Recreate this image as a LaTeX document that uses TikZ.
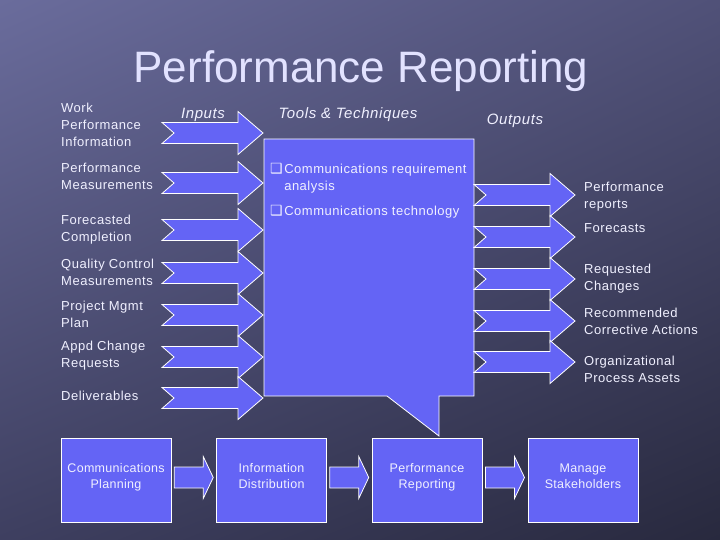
\documentclass[tikz,border=0pt]{standalone}
\usepackage{fontspec}
\setmainfont{Liberation Sans}
\newfontfamily\dingfont{DejaVu Sans}
\usetikzlibrary{calc,shadings}
\definecolor{bgTL}{RGB}{106,108,156}
\definecolor{bgTR}{RGB}{80,81,120}
\definecolor{bgBL}{RGB}{62,63,96}
\definecolor{bgBR}{RGB}{40,41,62}
\definecolor{boxblue}{RGB}{100,100,245}
\definecolor{lighttext}{RGB}{240,240,255}
\definecolor{titletext}{RGB}{226,226,255}
\newcommand{\bul}{{\dingfont\fontsize{14}{13}\selectfont ❑}}

\begin{document}
\begin{tikzpicture}[x=1pt,y=-1pt,
  blockfill/.style={fill=boxblue,draw=white,line width=0.8pt},
  lbl/.style={anchor=west,align=left,inner sep=0pt,text=lighttext,
    font=\fontsize{13}{17}\selectfont\addfontfeatures{LetterSpace=4}},
  colhead/.style={inner sep=0pt,text=lighttext,
    font=\fontsize{15}{18}\selectfont\itshape\addfontfeatures{LetterSpace=4}},
  stage/.style={blockfill,minimum width=110pt,minimum height=84pt,align=center,text=lighttext,
    text depth=8pt,font=\fontsize{12.5}{16}\selectfont\addfontfeatures{LetterSpace=2.5}},
  pics/blockarrow/.style={code={
    \draw[blockfill] (0,-10.5) -- (76,-10.5) -- (76,-21.5) -- (101,0) -- (76,21.5) -- (76,10.5) -- (0,10.5) -- (12,0) -- cycle;}},
  pics/flowarrow/.style={code={
    \draw[blockfill] (-19.5,-10.5) -- (9.5,-10.5) -- (9.5,-21) -- (19.5,0) -- (9.5,21) -- (9.5,10.5) -- (-19.5,10.5) -- cycle;}}]
  \useasboundingbox (0,0) rectangle (720,540);
  \shade[upper left=bgTL,upper right=bgTR,lower left=bgBL,lower right=bgBR] (0,0) rectangle (720,540);

  \node[anchor=base,inner sep=0pt,text=titletext,font=\fontsize{44}{50}\selectfont] (title) at (361,83) {Performance Reporting};

  \node[colhead] (inputs) at (203,115) {Inputs};
  \node[colhead] (tools) at (348,115) {Tools \& Techniques};
  \node[colhead] (outputs) at (515,121) {Outputs};

  \foreach \y in {133,183,230,273,315,357,398}
    \pic at (162,\y) {blockarrow};

  \draw[blockfill] (264,139) -- (474,139) -- (474,396) -- (439,396) -- (439,436) -- (387,396) -- (264,396) -- cycle;
  \node[lbl,anchor=north west] (techniques) at (270,161) {%
    \begin{tabular}{@{}l@{\hspace{1.5pt}}l@{}}
      \bul & Communications requirement\\
           & analysis\\[8pt]
      \bul & Communications technology
    \end{tabular}};

  \foreach \y in {195,237,279,321,362}
    \pic at (474,\y) {blockarrow};

  \node[lbl] (workinfo) at (61,125) {Work\\Performance\\Information};
  \node[lbl] (measure) at (61,176.5) {Performance\\Measurements};
  \node[lbl] (forecast) at (61,230) {Forecasted\\Completion};
  \node[lbl] (quality) at (61,272) {Quality Control\\Measurements};
  \node[lbl] (pmplan) at (61,314) {Project Mgmt\\Plan};
  \node[lbl] (changes) at (61,356) {Appd Change\\Requests};
  \node[lbl] (deliver) at (61,396) {Deliverables};

  \node[lbl] (reports) at (584,196.5) {Performance\\reports};
  \node[lbl] (forecasts) at (584,228) {Forecasts};
  \node[lbl] (requested) at (584,279) {Requested\\Changes};
  \node[lbl] (corrective) at (584,321) {Recommended\\Corrective Actions};
  \node[lbl] (assets) at (584,369) {Organizational\\Process Assets};

  \node[stage] (planning) at (116,480) {Communications\\Planning};
  \node[stage] (distrib) at (271.5,480) {Information\\Distribution};
  \node[stage] (reporting) at (427,480) {Performance\\Reporting};
  \node[stage] (manage) at (583,480) {Manage\\Stakeholders};

  \pic at ($(planning.east)!0.5!(distrib.west)+(0,-2.5)$) {flowarrow};
  \pic at ($(distrib.east)!0.5!(reporting.west)+(0,-2.5)$) {flowarrow};
  \pic at ($(reporting.east)!0.5!(manage.west)+(0,-2.5)$) {flowarrow};
\end{tikzpicture}
\end{document}
